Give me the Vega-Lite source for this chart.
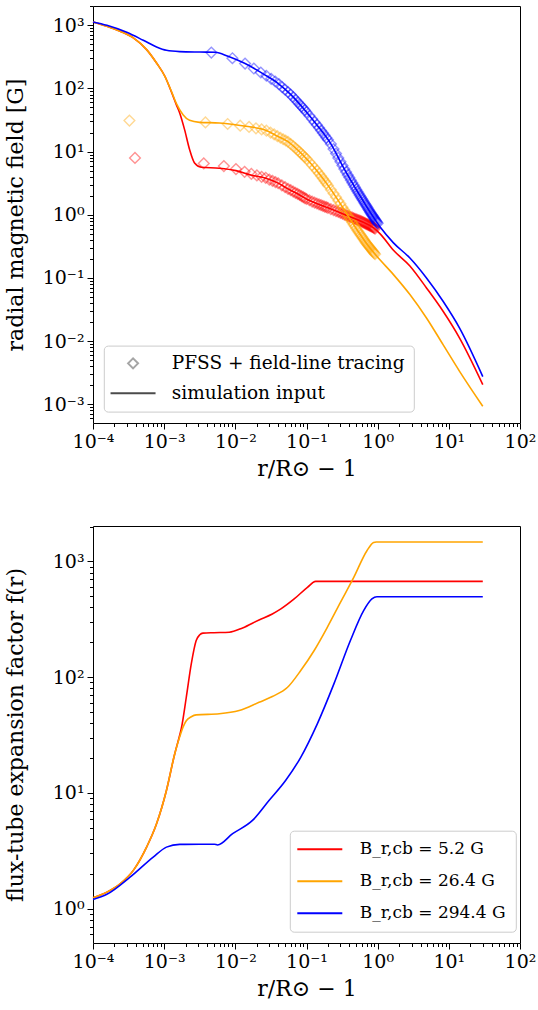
{
  "$schema": "https://vega.github.io/schema/vega-lite/v6.json",
  "padding": {"left": 3, "top": 5, "right": 0, "bottom": 0},
  "spacing": 45,
  "config": {
    "font": "DejaVu Serif",
    "view": {"stroke": "black", "strokeWidth": 1},
    "axis": {"grid": false, "domain": false, "tickColor": "black", "tickWidth": 1, "labelColor": "black", "titleColor": "black", "labelFont": "DejaVu Serif", "titleFont": "DejaVu Serif", "titleFontWeight": "normal", "labelFontSize": 19, "titleFontSize": 22},
    "legend": {"labelFont": "DejaVu Serif", "labelFontSize": 18.5, "labelColor": "black", "labelLimit": 500, "strokeColor": "#cccccc", "fillColor": "rgba(255,255,255,0.8)", "cornerRadius": 4, "padding": 8.5, "rowPadding": 11, "symbolSize": 100, "symbolStrokeWidth": 2, "labelOffset": 41}
  },
  "resolve": {"scale": {"color": "independent"}},
  "datasets": {
    "toplines": [
      {"s":"5.2","x":0.0001,"y":1130},{"s":"5.2","x":0.0001567,"y":964},{"s":"5.2","x":0.0002404,"y":803},{"s":"5.2","x":0.000369,"y":631},{"s":"5.2","x":0.0005662,"y":412},{"s":"5.2","x":0.0007816,"y":253},{"s":"5.2","x":0.001023,"y":156},{"s":"5.2","x":0.001265,"y":88},{"s":"5.2","x":0.001486,"y":55},{"s":"5.2","x":0.001652,"y":40.9},{"s":"5.2","x":0.001936,"y":22.3},{"s":"5.2","x":0.002275,"y":10.8},{"s":"5.2","x":0.002673,"y":6.6},{"s":"5.2","x":0.003311,"y":5.65},{"s":"5.2","x":0.005957,"y":5.45},{"s":"5.2","x":0.01019,"y":5.0},{"s":"5.2","x":0.01742,"y":4.2},{"s":"5.2","x":0.02673,"y":3.8},{"s":"5.2","x":0.03926,"y":3.2},{"s":"5.2","x":0.0542,"y":2.6},{"s":"5.2","x":0.07464,"y":2.15},{"s":"5.2","x":0.103,"y":1.75},{"s":"5.2","x":0.1413,"y":1.5},{"s":"5.2","x":0.1959,"y":1.3},{"s":"5.2","x":0.3342,"y":1.02},{"s":"5.2","x":0.5702,"y":0.8},{"s":"5.2","x":0.877,"y":0.62},{"s":"5.2","x":1.084,"y":0.5},{"s":"5.2","x":1.667,"y":0.275},{"s":"5.2","x":2.838,"y":0.155},{"s":"5.2","x":4.853,"y":0.0695},{"s":"5.2","x":8.299,"y":0.0297},{"s":"5.2","x":14.16,"y":0.0112},{"s":"5.2","x":30,"y":0.00205},
      {"s":"26.4","x":0.0001,"y":1130},{"s":"26.4","x":0.0001567,"y":964},{"s":"26.4","x":0.0002404,"y":803},{"s":"26.4","x":0.000369,"y":631},{"s":"26.4","x":0.0005662,"y":412},{"s":"26.4","x":0.0007816,"y":253},{"s":"26.4","x":0.001023,"y":156},{"s":"26.4","x":0.001265,"y":90},{"s":"26.4","x":0.001486,"y":57.5},{"s":"26.4","x":0.001841,"y":38.5},{"s":"26.4","x":0.002275,"y":31.3},{"s":"26.4","x":0.003141,"y":29.1},{"s":"26.4","x":0.005957,"y":28.4},{"s":"26.4","x":0.01406,"y":25.2},{"s":"26.4","x":0.02673,"y":21.8},{"s":"26.4","x":0.03926,"y":17.5},{"s":"26.4","x":0.0542,"y":14.5},{"s":"26.4","x":0.07464,"y":10.7},{"s":"26.4","x":0.103,"y":7.45},{"s":"26.4","x":0.1419,"y":4.91},{"s":"26.4","x":0.1959,"y":3.03},{"s":"26.4","x":0.2698,"y":1.79},{"s":"26.4","x":0.3342,"y":1.23},{"s":"26.4","x":0.414,"y":0.838},{"s":"26.4","x":0.5129,"y":0.579},{"s":"26.4","x":0.7063,"y":0.345},{"s":"26.4","x":0.975,"y":0.22},{"s":"26.4","x":1.667,"y":0.113},{"s":"26.4","x":2.838,"y":0.0546},{"s":"26.4","x":4.853,"y":0.0233},{"s":"26.4","x":8.299,"y":0.0088},{"s":"26.4","x":14.16,"y":0.00333},{"s":"26.4","x":30,"y":0.00093},
      {"s":"294.4","x":0.0001,"y":1130},{"s":"294.4","x":0.0001567,"y":1000},{"s":"294.4","x":0.0002979,"y":774},{"s":"294.4","x":0.0005093,"y":579},{"s":"294.4","x":0.0007816,"y":454},{"s":"294.4","x":0.001076,"y":402},{"s":"294.4","x":0.001652,"y":383},{"s":"294.4","x":0.003162,"y":377},{"s":"294.4","x":0.005248,"y":374},{"s":"294.4","x":0.007889,"y":323},{"s":"294.4","x":0.01349,"y":250},{"s":"294.4","x":0.02564,"y":166},{"s":"294.4","x":0.03926,"y":122},{"s":"294.4","x":0.06026,"y":80},{"s":"294.4","x":0.09247,"y":47},{"s":"294.4","x":0.1419,"y":26},{"s":"294.4","x":0.2178,"y":13.5},{"s":"294.4","x":0.3342,"y":5.5},{"s":"294.4","x":0.5129,"y":2.4},{"s":"294.4","x":0.7852,"y":1.1},{"s":"294.4","x":1.084,"y":0.64},{"s":"294.4","x":1.667,"y":0.36},{"s":"294.4","x":2.838,"y":0.207},{"s":"294.4","x":4.853,"y":0.1},{"s":"294.4","x":8.299,"y":0.0428},{"s":"294.4","x":14.16,"y":0.0161},{"s":"294.4","x":30,"y":0.00275}
    ],
    "diamonds": [
      {"s":"5.2","x":0.000389,"y":7.95},{"s":"5.2","x":0.0036,"y":6.5},{"s":"5.2","x":0.0069,"y":5.9},{"s":"5.2","x":0.0102,"y":5.3},{"s":"5.2","x":0.0135,"y":4.8},{"s":"5.2","x":0.0168,"y":4.45},{"s":"5.2","x":0.0201,"y":4.2},{"s":"5.2","x":0.0234,"y":4.0},{"s":"5.2","x":0.0267,"y":3.85},{"s":"5.2","x":0.03,"y":3.61},{"s":"5.2","x":0.0333,"y":3.45},{"s":"5.2","x":0.0366,"y":3.3},{"s":"5.2","x":0.04,"y":3.16},{"s":"5.2","x":0.045,"y":2.93},{"s":"5.2","x":0.05,"y":2.74},{"s":"5.2","x":0.055,"y":2.58},{"s":"5.2","x":0.06,"y":2.45},{"s":"5.2","x":0.065,"y":2.33},{"s":"5.2","x":0.07,"y":2.23},{"s":"5.2","x":0.075,"y":2.14},{"s":"5.2","x":0.08,"y":2.06},{"s":"5.2","x":0.085,"y":1.98},{"s":"5.2","x":0.09,"y":1.9},{"s":"5.2","x":0.095,"y":1.84},{"s":"5.2","x":0.1,"y":1.78},{"s":"5.2","x":0.11,"y":1.7},{"s":"5.2","x":0.12,"y":1.62},{"s":"5.2","x":0.13,"y":1.56},{"s":"5.2","x":0.14,"y":1.51},{"s":"5.2","x":0.15,"y":1.46},{"s":"5.2","x":0.16,"y":1.42},{"s":"5.2","x":0.17,"y":1.38},{"s":"5.2","x":0.18,"y":1.35},{"s":"5.2","x":0.19,"y":1.32},{"s":"5.2","x":0.2,"y":1.29},{"s":"5.2","x":0.22,"y":1.23},{"s":"5.2","x":0.24,"y":1.19},{"s":"5.2","x":0.26,"y":1.14},{"s":"5.2","x":0.28,"y":1.11},{"s":"5.2","x":0.3,"y":1.07},{"s":"5.2","x":0.32,"y":1.04},{"s":"5.2","x":0.34,"y":1.01},{"s":"5.2","x":0.36,"y":0.986},{"s":"5.2","x":0.38,"y":0.962},{"s":"5.2","x":0.4,"y":0.94},{"s":"5.2","x":0.42,"y":0.92},{"s":"5.2","x":0.44,"y":0.9},{"s":"5.2","x":0.46,"y":0.881},{"s":"5.2","x":0.48,"y":0.865},{"s":"5.2","x":0.5,"y":0.849},{"s":"5.2","x":0.52,"y":0.834},{"s":"5.2","x":0.54,"y":0.82},{"s":"5.2","x":0.56,"y":0.807},{"s":"5.2","x":0.58,"y":0.793},{"s":"5.2","x":0.6,"y":0.778},{"s":"5.2","x":0.62,"y":0.764},{"s":"5.2","x":0.64,"y":0.75},{"s":"5.2","x":0.66,"y":0.736},{"s":"5.2","x":0.68,"y":0.724},{"s":"5.2","x":0.7,"y":0.714},{"s":"5.2","x":0.72,"y":0.703},{"s":"5.2","x":0.74,"y":0.692},{"s":"5.2","x":0.76,"y":0.682},{"s":"5.2","x":0.78,"y":0.673},{"s":"5.2","x":0.8,"y":0.664},{"s":"5.2","x":0.82,"y":0.655},{"s":"5.2","x":0.84,"y":0.646},{"s":"5.2","x":0.86,"y":0.637},{"s":"5.2","x":0.88,"y":0.628},{"s":"5.2","x":0.9,"y":0.616},{"s":"5.2","x":0.92,"y":0.605},
      {"s":"26.4","x":0.000325,"y":31},{"s":"26.4","x":0.0038,"y":29.0},{"s":"26.4","x":0.0078,"y":27.4},{"s":"26.4","x":0.0117,"y":25.8},{"s":"26.4","x":0.0156,"y":24.6},{"s":"26.4","x":0.0195,"y":23.4},{"s":"26.4","x":0.0234,"y":22.5},{"s":"26.4","x":0.0273,"y":21.5},{"s":"26.4","x":0.0312,"y":20.0},{"s":"26.4","x":0.0351,"y":18.7},{"s":"26.4","x":0.039,"y":17.6},{"s":"26.4","x":0.043,"y":16.6},{"s":"26.4","x":0.047,"y":15.7},{"s":"26.4","x":0.051,"y":15.0},{"s":"26.4","x":0.055,"y":14.3},{"s":"26.4","x":0.06,"y":13.2},{"s":"26.4","x":0.065,"y":12.2},{"s":"26.4","x":0.07,"y":11.4},{"s":"26.4","x":0.075,"y":10.6},{"s":"26.4","x":0.08,"y":9.89},{"s":"26.4","x":0.085,"y":9.25},{"s":"26.4","x":0.09,"y":8.67},{"s":"26.4","x":0.095,"y":8.15},{"s":"26.4","x":0.1,"y":7.71},{"s":"26.4","x":0.11,"y":6.85},{"s":"26.4","x":0.12,"y":6.11},{"s":"26.4","x":0.13,"y":5.51},{"s":"26.4","x":0.14,"y":5.0},{"s":"26.4","x":0.15,"y":4.52},{"s":"26.4","x":0.16,"y":4.1},{"s":"26.4","x":0.17,"y":3.75},{"s":"26.4","x":0.18,"y":3.44},{"s":"26.4","x":0.19,"y":3.17},{"s":"26.4","x":0.2,"y":2.92},{"s":"26.4","x":0.22,"y":2.5},{"s":"26.4","x":0.24,"y":2.17},{"s":"26.4","x":0.26,"y":1.9},{"s":"26.4","x":0.28,"y":1.67},{"s":"26.4","x":0.3,"y":1.49},{"s":"26.4","x":0.32,"y":1.32},{"s":"26.4","x":0.34,"y":1.19},{"s":"26.4","x":0.36,"y":1.08},{"s":"26.4","x":0.38,"y":0.975},{"s":"26.4","x":0.4,"y":0.891},{"s":"26.4","x":0.42,"y":0.818},{"s":"26.4","x":0.44,"y":0.755},{"s":"26.4","x":0.46,"y":0.698},{"s":"26.4","x":0.48,"y":0.65},{"s":"26.4","x":0.5,"y":0.605},{"s":"26.4","x":0.52,"y":0.566},{"s":"26.4","x":0.54,"y":0.533},{"s":"26.4","x":0.56,"y":0.502},{"s":"26.4","x":0.58,"y":0.475},{"s":"26.4","x":0.6,"y":0.45},{"s":"26.4","x":0.62,"y":0.427},{"s":"26.4","x":0.64,"y":0.405},{"s":"26.4","x":0.66,"y":0.385},{"s":"26.4","x":0.68,"y":0.366},{"s":"26.4","x":0.7,"y":0.35},{"s":"26.4","x":0.72,"y":0.337},{"s":"26.4","x":0.74,"y":0.324},{"s":"26.4","x":0.76,"y":0.311},{"s":"26.4","x":0.78,"y":0.301},{"s":"26.4","x":0.8,"y":0.29},{"s":"26.4","x":0.82,"y":0.28},{"s":"26.4","x":0.84,"y":0.271},{"s":"26.4","x":0.86,"y":0.262},{"s":"26.4","x":0.88,"y":0.254},{"s":"26.4","x":0.9,"y":0.246},{"s":"26.4","x":0.92,"y":0.238},
      {"s":"294.4","x":0.0046,"y":370},{"s":"294.4","x":0.0091,"y":301},{"s":"294.4","x":0.0137,"y":248},{"s":"294.4","x":0.0182,"y":207},{"s":"294.4","x":0.0228,"y":179},{"s":"294.4","x":0.0273,"y":159},{"s":"294.4","x":0.0319,"y":142},{"s":"294.4","x":0.0364,"y":129},{"s":"294.4","x":0.041,"y":117},{"s":"294.4","x":0.0455,"y":105},{"s":"294.4","x":0.05,"y":96},{"s":"294.4","x":0.055,"y":87.5},{"s":"294.4","x":0.06,"y":80},{"s":"294.4","x":0.065,"y":72.8},{"s":"294.4","x":0.07,"y":66.4},{"s":"294.4","x":0.075,"y":61},{"s":"294.4","x":0.08,"y":56.2},{"s":"294.4","x":0.085,"y":52.2},{"s":"294.4","x":0.09,"y":48.6},{"s":"294.4","x":0.095,"y":45.2},{"s":"294.4","x":0.1,"y":42.2},{"s":"294.4","x":0.11,"y":37},{"s":"294.4","x":0.12,"y":32.8},{"s":"294.4","x":0.13,"y":29.3},{"s":"294.4","x":0.14,"y":26.5},{"s":"294.4","x":0.15,"y":23.9},{"s":"294.4","x":0.16,"y":21.6},{"s":"294.4","x":0.17,"y":19.8},{"s":"294.4","x":0.18,"y":18.1},{"s":"294.4","x":0.19,"y":16.6},{"s":"294.4","x":0.2,"y":15.4},{"s":"294.4","x":0.22,"y":13.2},{"s":"294.4","x":0.24,"y":11.0},{"s":"294.4","x":0.26,"y":9.31},{"s":"294.4","x":0.28,"y":7.96},{"s":"294.4","x":0.3,"y":6.9},{"s":"294.4","x":0.32,"y":6.03},{"s":"294.4","x":0.34,"y":5.32},{"s":"294.4","x":0.36,"y":4.76},{"s":"294.4","x":0.38,"y":4.28},{"s":"294.4","x":0.4,"y":3.88},{"s":"294.4","x":0.42,"y":3.53},{"s":"294.4","x":0.44,"y":3.23},{"s":"294.4","x":0.46,"y":2.96},{"s":"294.4","x":0.48,"y":2.73},{"s":"294.4","x":0.5,"y":2.52},{"s":"294.4","x":0.52,"y":2.34},{"s":"294.4","x":0.54,"y":2.19},{"s":"294.4","x":0.56,"y":2.04},{"s":"294.4","x":0.58,"y":1.92},{"s":"294.4","x":0.6,"y":1.8},{"s":"294.4","x":0.62,"y":1.7},{"s":"294.4","x":0.64,"y":1.6},{"s":"294.4","x":0.66,"y":1.51},{"s":"294.4","x":0.68,"y":1.43},{"s":"294.4","x":0.7,"y":1.36},{"s":"294.4","x":0.72,"y":1.29},{"s":"294.4","x":0.74,"y":1.23},{"s":"294.4","x":0.76,"y":1.17},{"s":"294.4","x":0.78,"y":1.11},{"s":"294.4","x":0.8,"y":1.07},{"s":"294.4","x":0.82,"y":1.02},{"s":"294.4","x":0.84,"y":0.982},{"s":"294.4","x":0.86,"y":0.946},{"s":"294.4","x":0.88,"y":0.91},{"s":"294.4","x":0.9,"y":0.875},{"s":"294.4","x":0.92,"y":0.841},{"s":"294.4","x":0.94,"y":0.813},{"s":"294.4","x":0.96,"y":0.785},{"s":"294.4","x":0.98,"y":0.758},{"s":"294.4","x":1.0,"y":0.733}
    ],
    "botlines": [
      {"s":"5.2","x":0.0001,"y":1.24},{"s":"5.2","x":0.0001567,"y":1.39},{"s":"5.2","x":0.0002404,"y":1.64},{"s":"5.2","x":0.000369,"y":2.14},{"s":"5.2","x":0.0005662,"y":3.4},{"s":"5.2","x":0.0007816,"y":5.41},{"s":"5.2","x":0.001076,"y":10.5},{"s":"5.2","x":0.001406,"y":21.7},{"s":"5.2","x":0.001652,"y":31.5},{"s":"5.2","x":0.001742,"y":36},{"s":"5.2","x":0.002046,"y":67},{"s":"5.2","x":0.002404,"y":130},{"s":"5.2","x":0.002818,"y":207},{"s":"5.2","x":0.003162,"y":232},{"s":"5.2","x":0.0035,"y":240},{"s":"5.2","x":0.005,"y":242},{"s":"5.2","x":0.008222,"y":244},{"s":"5.2","x":0.01265,"y":266},{"s":"5.2","x":0.02153,"y":312},{"s":"5.2","x":0.03311,"y":351},{"s":"5.2","x":0.04365,"y":388},{"s":"5.2","x":0.06714,"y":473},{"s":"5.2","x":0.103,"y":596},{"s":"5.2","x":0.1346,"y":671},{"s":"5.2","x":30,"y":671},
      {"s":"26.4","x":0.0001,"y":1.24},{"s":"26.4","x":0.0001567,"y":1.39},{"s":"26.4","x":0.0002404,"y":1.64},{"s":"26.4","x":0.000369,"y":2.14},{"s":"26.4","x":0.0005662,"y":3.4},{"s":"26.4","x":0.0007816,"y":5.41},{"s":"26.4","x":0.001076,"y":10.5},{"s":"26.4","x":0.001406,"y":21.7},{"s":"26.4","x":0.001652,"y":30.5},{"s":"26.4","x":0.001841,"y":37},{"s":"26.4","x":0.002046,"y":42},{"s":"26.4","x":0.002404,"y":45.5},{"s":"26.4","x":0.002818,"y":47.2},{"s":"26.4","x":0.005957,"y":48.2},{"s":"26.4","x":0.01132,"y":51.4},{"s":"26.4","x":0.02153,"y":60.6},{"s":"26.4","x":0.03311,"y":68},{"s":"26.4","x":0.0542,"y":81.7},{"s":"26.4","x":0.08299,"y":114},{"s":"26.4","x":0.1276,"y":169},{"s":"26.4","x":0.1959,"y":269},{"s":"26.4","x":0.2999,"y":442},{"s":"26.4","x":0.4613,"y":726},{"s":"26.4","x":0.7063,"y":1235},{"s":"26.4","x":0.877,"y":1455},{"s":"26.4","x":0.955,"y":1470},{"s":"26.4","x":30,"y":1470},
      {"s":"294.4","x":0.0001,"y":1.2},{"s":"294.4","x":0.0001567,"y":1.33},{"s":"294.4","x":0.0003311,"y":1.87},{"s":"294.4","x":0.0007015,"y":2.79},{"s":"294.4","x":0.001076,"y":3.4},{"s":"294.4","x":0.001652,"y":3.59},{"s":"294.4","x":0.003162,"y":3.6},{"s":"294.4","x":0.005082,"y":3.6},{"s":"294.4","x":0.005623,"y":3.55},{"s":"294.4","x":0.009162,"y":4.44},{"s":"294.4","x":0.01742,"y":5.78},{"s":"294.4","x":0.02972,"y":8.6},{"s":"294.4","x":0.05082,"y":12.8},{"s":"294.4","x":0.08299,"y":20.3},{"s":"294.4","x":0.1419,"y":39.5},{"s":"294.4","x":0.2427,"y":87.4},{"s":"294.4","x":0.414,"y":207},{"s":"294.4","x":0.6353,"y":375},{"s":"294.4","x":0.8299,"y":473},{"s":"294.4","x":0.975,"y":495},{"s":"294.4","x":30,"y":495}
    ]
  },
  "vconcat": [
    {
      "width": 427,
      "height": 417,
      "resolve": {"axis": {"x": "independent", "y": "independent"}},
      "layer": [
        {
          "layer": [
            {
              "data": {"name": "diamonds"},
              "mark": {"type": "point", "shape": "diamond", "filled": false, "size": 115, "strokeWidth": 1.4, "opacity": 0.42},
              "encoding": {
                "x": {"field": "x", "type": "quantitative", "scale": {"type": "log", "domain": [0.0001, 100], "nice": false}, "axis": {"orient": "bottom", "values": [0.0001, 0.001, 0.01, 0.1, 1, 10, 100], "labelExpr": "datum.value < 0.0005 ? '10⁻⁴' : datum.value < 0.005 ? '10⁻³' : datum.value < 0.05 ? '10⁻²' : datum.value < 0.5 ? '10⁻¹' : datum.value < 5 ? '10⁰' : datum.value < 50 ? '10¹' : '10²'", "tickSize": 6, "labelPadding": 3, "labelFlush": false, "labelOverlap": false, "title": "r/R⊙ − 1", "titlePadding": 7}},
                "y": {"field": "y", "type": "quantitative", "scale": {"type": "log", "domain": [0.000506, 2021], "nice": false}, "axis": {"orient": "left", "values": [0.001, 0.01, 0.1, 1, 10, 100, 1000], "labelExpr": "datum.value < 0.005 ? '10⁻³' : datum.value < 0.05 ? '10⁻²' : datum.value < 0.5 ? '10⁻¹' : datum.value < 5 ? '10⁰' : datum.value < 50 ? '10¹' : datum.value < 500 ? '10²' : '10³'", "tickSize": 6, "labelPadding": 3, "labelOverlap": false, "minExtent": 50, "maxExtent": 50, "title": "radial magnetic field [G]", "titlePadding": 16}},
                "color": {"field": "s", "type": "nominal", "scale": {"domain": ["5.2", "26.4", "294.4"], "range": ["#ff0000", "#ffa500", "#0000ff"]}, "legend": null}
              }
            },
            {
              "data": {"name": "toplines"},
              "mark": {"type": "line", "strokeWidth": 1.6, "interpolate": "monotone"},
              "encoding": {
                "x": {"field": "x", "type": "quantitative"},
                "y": {"field": "y", "type": "quantitative"},
                "color": {"field": "s", "type": "nominal", "legend": null}
              }
            },
            {
              "data": {"values": []},
              "mark": {"type": "point", "filled": false},
              "encoding": {
                "shape": {"field": "k", "type": "nominal", "scale": {"domain": ["PFSS + field-line tracing", "simulation input"], "range": ["M1.3,0L2.3,-1L3.3,0L2.3,1Z", "M-2.2,0L6.8,0"]}, "legend": {"orient": "none", "legendX": 10.8, "legendY": 339.6, "title": null, "labelOffset": 41}},
                "stroke": {"field": "k", "type": "nominal", "scale": {"domain": ["PFSS + field-line tracing", "simulation input"], "range": ["#808080", "#000000"]}, "legend": {"orient": "none", "legendX": 10.8, "legendY": 339.6, "title": null, "labelOffset": 41}}
              }
            }
          ]
        },
        {
          "data": {"name": "toplines"},
          "mark": {"type": "point", "opacity": 0, "size": 1},
          "encoding": {
            "x": {"field": "x", "type": "quantitative", "axis": {"orient": "bottom", "values": [0.0002,0.0003,0.0004,0.0005,0.0006,0.0007,0.0008,0.0009,0.002,0.003,0.004,0.005,0.006,0.007,0.008,0.009,0.02,0.03,0.04,0.05,0.06,0.07,0.08,0.09,0.2,0.3,0.4,0.5,0.6,0.7,0.8,0.9,2,3,4,5,6,7,8,9,20,30,40,50,60,70,80,90], "labels": false, "tickSize": 3.5, "title": null}},
            "y": {"field": "y", "type": "quantitative", "axis": {"orient": "left", "values": [0.0006,0.0007,0.0008,0.0009,0.002,0.003,0.004,0.005,0.006,0.007,0.008,0.009,0.02,0.03,0.04,0.05,0.06,0.07,0.08,0.09,0.2,0.3,0.4,0.5,0.6,0.7,0.8,0.9,2,3,4,5,6,7,8,9,20,30,40,50,60,70,80,90,200,300,400,500,600,700,800,900,2000], "labels": false, "tickSize": 3.5, "title": null}}
          }
        }
      ]
    },
    {
      "width": 427,
      "height": 417,
      "resolve": {"axis": {"x": "independent", "y": "independent"}},
      "layer": [
        {
          "data": {"name": "botlines"},
          "mark": {"type": "line", "strokeWidth": 1.6, "interpolate": "monotone"},
          "encoding": {
            "x": {"field": "x", "type": "quantitative", "scale": {"type": "log", "domain": [0.0001, 100], "nice": false}, "axis": {"orient": "bottom", "values": [0.0001, 0.001, 0.01, 0.1, 1, 10, 100], "labelExpr": "datum.value < 0.0005 ? '10⁻⁴' : datum.value < 0.005 ? '10⁻³' : datum.value < 0.05 ? '10⁻²' : datum.value < 0.5 ? '10⁻¹' : datum.value < 5 ? '10⁰' : datum.value < 50 ? '10¹' : '10²'", "tickSize": 6, "labelPadding": 3, "labelFlush": false, "labelOverlap": false, "title": "r/R⊙ − 1", "titlePadding": 7}},
            "y": {"field": "y", "type": "quantitative", "scale": {"type": "log", "domain": [0.505, 2020], "nice": false}, "axis": {"orient": "left", "values": [1, 10, 100, 1000], "labelExpr": "datum.value < 5 ? '10⁰' : datum.value < 50 ? '10¹' : datum.value < 500 ? '10²' : '10³'", "tickSize": 6, "labelPadding": 3, "labelOverlap": false, "minExtent": 50, "maxExtent": 50, "title": "flux-tube expansion factor f(r)", "titlePadding": 16}},
            "color": {"field": "s", "type": "nominal", "scale": {"domain": ["5.2", "26.4", "294.4"], "range": ["#ff0000", "#ffa500", "#0000ff"]}, "legend": {"orient": "none", "legendX": 196.8, "legendY": 304.7, "title": null, "symbolType": "M-2.2,0L6.8,0", "padding": 10, "rowPadding": 14, "labelOffset": 43, "labelFontSize": 17, "labelExpr": "'B_r,cb = ' + datum.label + ' G'"}}
          }
        },
        {
          "data": {"name": "botlines"},
          "mark": {"type": "point", "opacity": 0, "size": 1},
          "encoding": {
            "x": {"field": "x", "type": "quantitative", "axis": {"orient": "bottom", "values": [0.0002,0.0003,0.0004,0.0005,0.0006,0.0007,0.0008,0.0009,0.002,0.003,0.004,0.005,0.006,0.007,0.008,0.009,0.02,0.03,0.04,0.05,0.06,0.07,0.08,0.09,0.2,0.3,0.4,0.5,0.6,0.7,0.8,0.9,2,3,4,5,6,7,8,9,20,30,40,50,60,70,80,90], "labels": false, "tickSize": 3.5, "title": null}},
            "y": {"field": "y", "type": "quantitative", "axis": {"orient": "left", "values": [0.6,0.7,0.8,0.9,2,3,4,5,6,7,8,9,20,30,40,50,60,70,80,90,200,300,400,500,600,700,800,900,2000], "labels": false, "tickSize": 3.5, "title": null}}
          }
        }
      ]
    }
  ]
}
